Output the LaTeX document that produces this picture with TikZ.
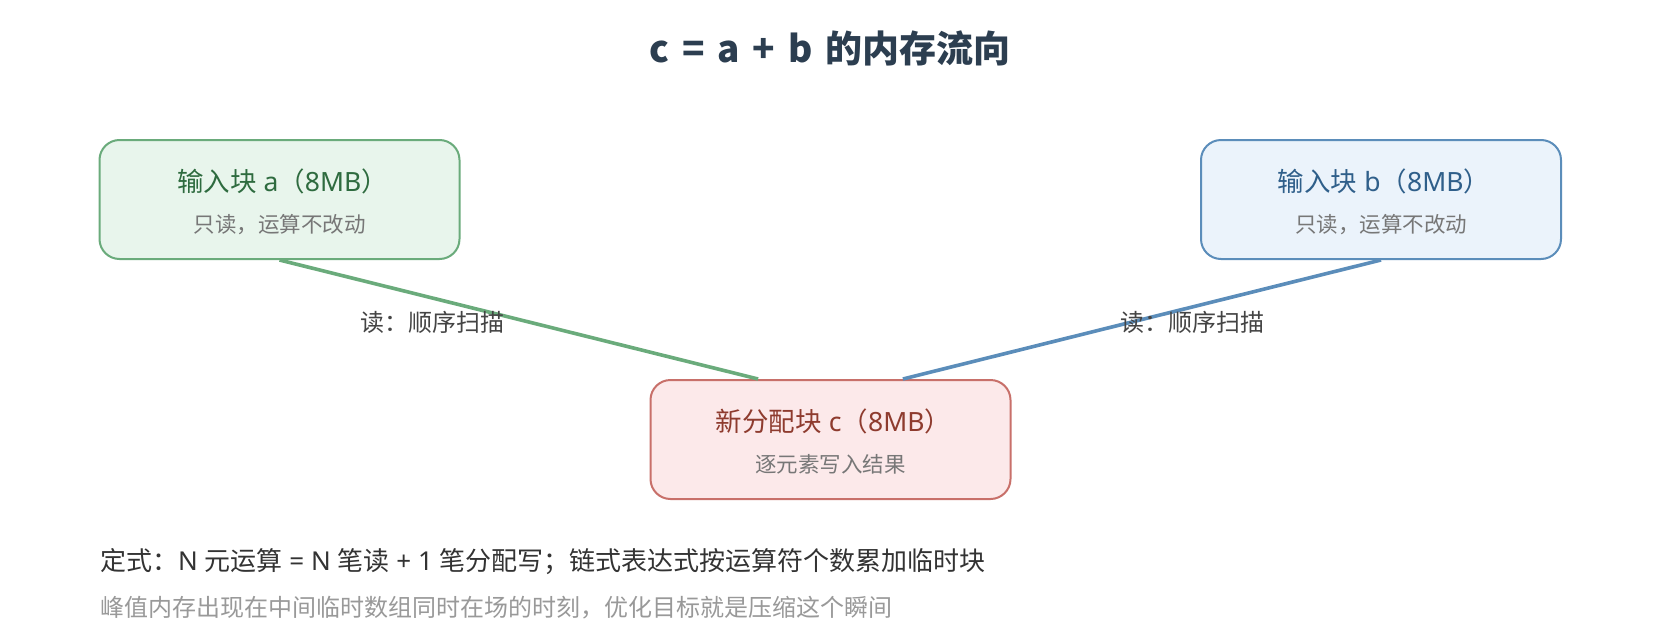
\documentclass[tikz,border=0pt]{standalone}
\usepackage{fontspec}
\setmainfont{Noto Sans CJK SC}
\newfontfamily\lat{Noto Sans}
\usetikzlibrary{calc}
\definecolor{titlec}{HTML}{2C3E50}
\definecolor{gborder}{HTML}{6AAB7B}
\definecolor{gfill}{HTML}{E8F5EC}
\definecolor{gtext}{HTML}{2E6B3F}
\definecolor{bborder}{HTML}{5B8DBA}
\definecolor{bfill}{HTML}{EBF3FB}
\definecolor{btext}{HTML}{2F5F8A}
\definecolor{rborder}{HTML}{C8706A}
\definecolor{rfill}{HTML}{FCE9EA}
\definecolor{rtext}{HTML}{8E3B2E}
\definecolor{subc}{HTML}{777777}
\definecolor{labc}{HTML}{444444}
\definecolor{note1}{HTML}{333333}
\definecolor{note2}{HTML}{999999}
\newcommand{\tsp}{\hspace{13pt}}
\tikzset{
  blockbox/.style={rounded corners=20pt, line width=2pt, minimum width=360pt, minimum height=119pt, inner sep=0pt},
  maintxt/.style={font=\fontsize{26.5}{30}\selectfont, anchor=center, inner sep=0pt},
  subtxt/.style={font=\fontsize{21.5}{26}\selectfont, text=subc, anchor=center, inner sep=0pt},
  lbl/.style={font=\fontsize{24}{28}\selectfont, text=labc, inner sep=0pt},
  flow/.style={line width=3.6pt},
}
\begin{document}
\begin{tikzpicture}[x=1pt,y=-1pt]
\useasboundingbox[fill=white] (0,0) rectangle (1660,640);
\node[font=\fontsize{37}{42}\selectfont\bfseries, text=titlec, inner sep=0pt] (title) at (830,48) {c\tsp=\tsp a\tsp+\tsp b\tsp 的内存流向};
\node[blockbox, draw=gborder, fill=gfill] (a) at (279.5,199.5) {};
\node[blockbox, draw=bborder, fill=bfill] (b) at (1381,199.5) {};
\node[blockbox, draw=rborder, fill=rfill] (c) at (830.5,439.5) {};
\node[maintxt, text=gtext] (at1) at ($(a.center)+(3,-18)$) {输入块{\lat\ a}（{\lat 8MB}）};
\node[subtxt] (at2) at ($(a.center)+(0,25)$) {只读，运算不改动};
\node[maintxt, text=btext] (bt1) at ($(b.center)+(3,-18)$) {输入块{\lat\ b}（{\lat 8MB}）};
\node[subtxt] (bt2) at ($(b.center)+(0,25)$) {只读，运算不改动};
\node[maintxt, text=rtext] (ct1) at ($(c.center)+(3,-18)$) {新分配块{\lat\ c}（{\lat 8MB}）};
\node[subtxt] (ct2) at ($(c.center)+(0,25)$) {逐元素写入结果};
\coordinate (cin1) at ($(c.north west)!0.3!(c.north east)$);
\coordinate (cin2) at ($(c.north west)!0.7!(c.north east)$);
\draw[flow, draw=gborder] (a.south) -- (cin1);
\draw[flow, draw=bborder] (b.south) -- (cin2);
\node[lbl] (la) at (432,322) {读：顺序扫描};
\node[lbl] (lb) at (1192,322) {读：顺序扫描};
\node[font=\fontsize{26}{30}\selectfont, text=note1, anchor=west, inner sep=0pt] (n1) at (100,562) {定式：{\lat N }元运算{\lat\ = N }笔读{\lat\ + 1 }笔分配写；链式表达式按运算符个数累加临时块};
\node[font=\fontsize{24}{28}\selectfont, text=note2, anchor=west, inner sep=0pt] (n2) at (100,608) {峰值内存出现在中间临时数组同时在场的时刻，优化目标就是压缩这个瞬间};
\end{tikzpicture}
\end{document}
